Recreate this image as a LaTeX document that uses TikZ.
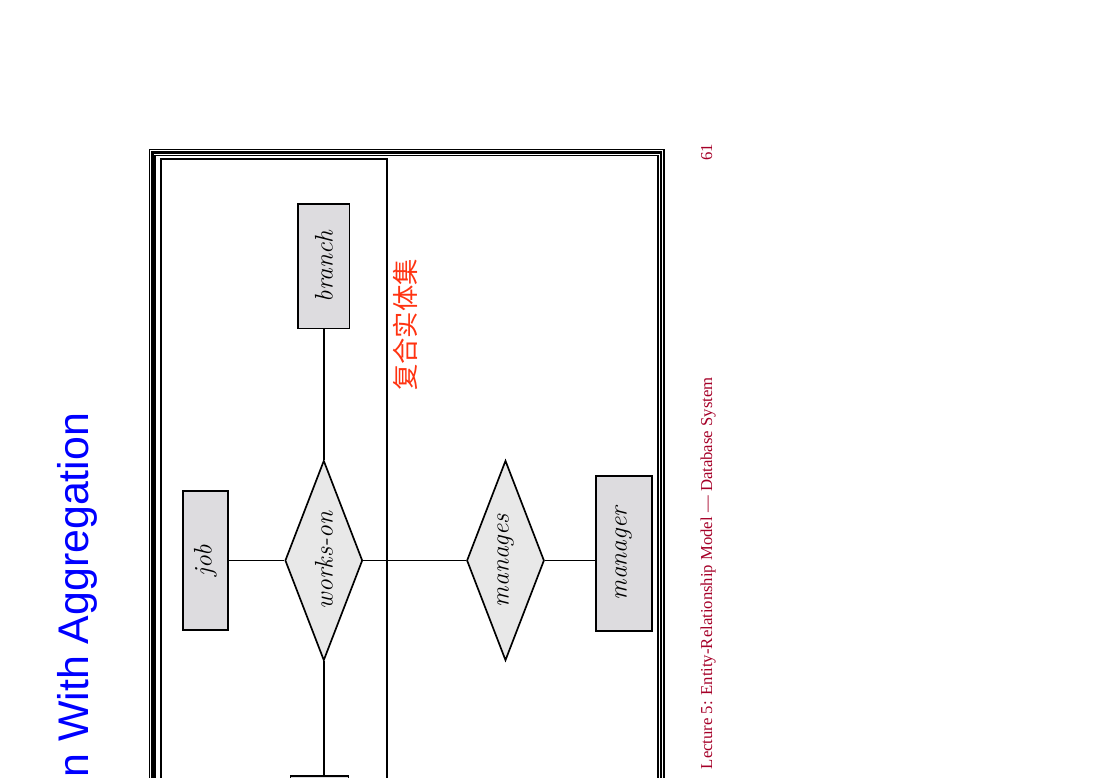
\documentclass[tikz,border=0pt]{standalone}
\usepackage{fontspec}
\newfontfamily\titlefont{Liberation Sans}
\newfontfamily\footfont{Liberation Serif}
\newfontfamily\cjk{Noto Sans CJK SC}
\usetikzlibrary{shapes.geometric}
\definecolor{entfill}{RGB}{221,220,223}
\definecolor{relfill}{RGB}{232,232,232}
\definecolor{footred}{RGB}{165,0,40}
\definecolor{aggred}{RGB}{255,51,17}

\begin{document}
\begin{tikzpicture}[x=0.02cm, y=0.02cm, line width=0.95pt,
    entity/.style = {draw, fill=entfill, rectangle, rotate=90, inner sep=0pt, font=\fontsize{14.5}{17}\selectfont\itshape},
    relation/.style = {draw, fill=relfill, diamond, rotate=90, inner sep=0pt, aspect=2.58, minimum width=4cm, minimum height=1.55cm, font=\fontsize{14.5}{17}\selectfont\itshape},
    sidetext/.style = {rotate=90, inner sep=0pt}]

    % page and frame
    \useasboundingbox (0,0) rectangle (1100,-778);
    \clip (0,0) rectangle (1100,-778);
    \draw[line width=0.8pt] (149.5,-149.5) rectangle (664,-800);
    \draw[line width=1.2pt] (152.5,-152.5) rectangle (661,-800);
    \draw[line width=0.8pt] (155.2,-155.2) rectangle (658,-800);

    % aggregation box
    \draw (161,-159) rectangle (386.7,-800);

    % entities
    \node[entity, minimum width=2.49cm, minimum height=1.03cm] (branch) at (323.8,-266.2) {branch};
    \node[entity, minimum width=2.78cm, minimum height=0.9cm] (job) at (205.5,-560.5) {job};
    \node[entity, minimum width=3.1cm, minimum height=1.12cm] (manager) at (623.7,-553.5) {manager};
    \node[entity, minimum width=2.8cm, minimum height=1.16cm] (employee) at (319.5,-846) {};

    % relationships
    \node[relation] (workson) at (323.8,-560.5) {works-on};
    \node[relation] (manages) at (505.5,-560.5) {manages};

    % connectors
    \draw (branch) -- (workson);
    \draw (job) -- (workson);
    \draw (workson) -- (manages);
    \draw (workson.west) -- (workson.west |- employee.east);
    \draw (manages.south) -- (manages.south -| manager.north);

    % labels
    \node[rotate=90, text=aggred, font={\cjk\fontsize{15}{18}\selectfont}] (agglabel) at (405,-325) {复合实体集};
    \node[sidetext, anchor=base east, text=blue, font={\titlefont\fontsize{24.4}{29}\selectfont}] (title) at (88,-412) {n With Aggregation};
    \node[sidetext, anchor=base west, text=footred, font={\footfont\fontsize{9.5}{11}\selectfont}] (footer) at (712,-770) {Lecture 5: Entity-Relationship Model — Database System};
    \node[sidetext, anchor=base east, text=footred, font={\footfont\fontsize{9.5}{11}\selectfont}] (pagenum) at (712,-143) {61};

\end{tikzpicture}
\end{document}
